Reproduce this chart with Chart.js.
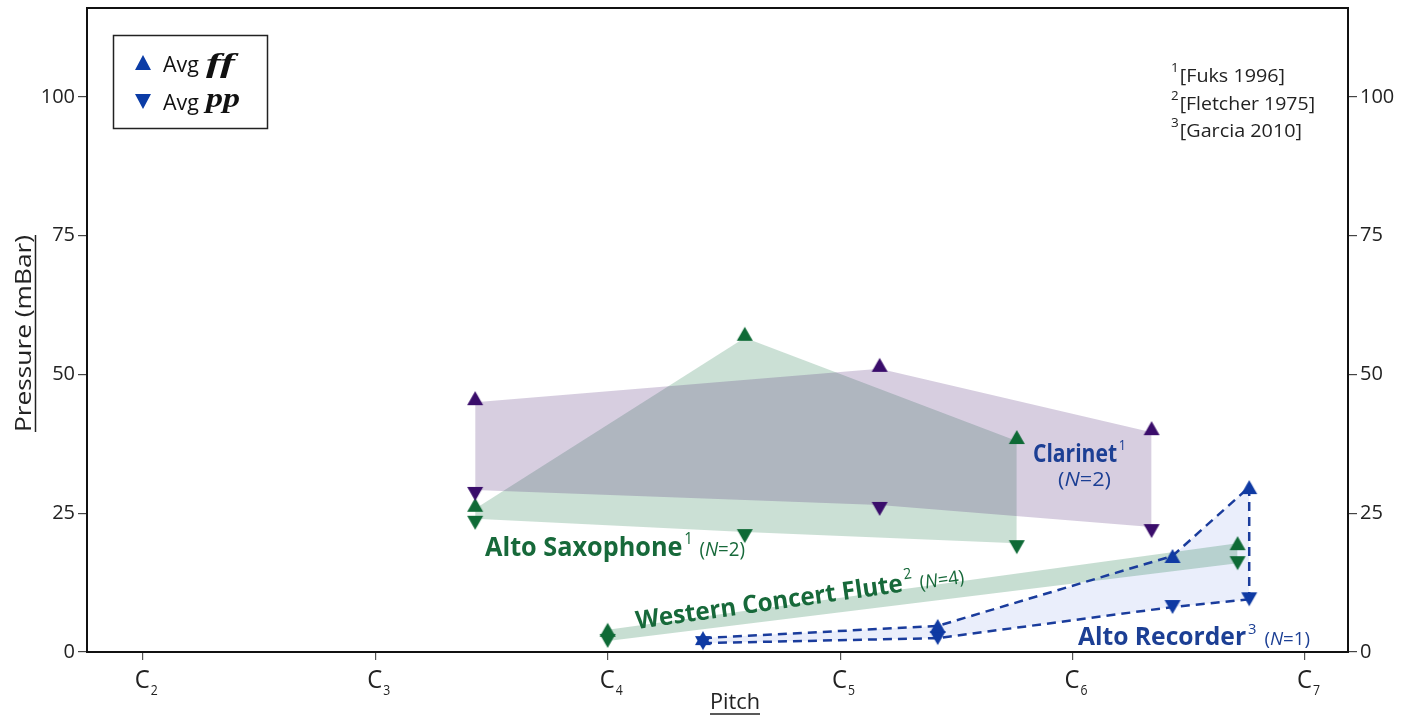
<!DOCTYPE html>
<html>
<head>
<meta charset="utf-8">
<script src="https://cdn.jsdelivr.net/npm/chart.js@4.4.0/dist/chart.umd.min.js"></script>
<style>
  body { margin: 0; background: #fff; }
  canvas { display: block; }
</style>
</head>
<body>
<canvas id="chart" width="1421" height="720"></canvas>
<script>
// Axis ticks
const yTicks = [0, 25, 50, 75, 100];
const octaves = [2, 3, 4, 5, 6, 7];

// Pitch given in octaves (C4 = 4.0), pressure in mBar
const clarinetPitch = [3.43, 5.17, 6.34];
const clarinetFF = [45.0, 51.0, 39.6];
const clarinetPP = [29.2, 26.5, 22.5];

const saxPitch = [3.43, 4.59, 5.76];
const saxFF = [25.8, 56.6, 38.0];
const saxPP = [24.0, 21.6, 19.6];

const flutePitch = [4.0, 6.71];
const fluteFF = [4.0, 19.6];
const flutePP = [2.0, 16.0];

const recorderPitch = [4.41, 5.42, 6.43, 6.76];
const recorderFF = [2.5, 4.7, 17.3, 29.7];
const recorderPP = [1.6, 2.5, 8.1, 9.5];

const purple = '#3a0d6b';
const green = '#0e6a36';
const blue = '#0f3aa3';
const SANS = '"Open Sans", "DejaVu Sans", sans-serif';

// marker images; with "outside" the triangle sits just beyond the band edge
function tri(color, up, outside) {
    const c = document.createElement('canvas');
    c.width = 18; c.height = 30;
    const g = c.getContext('2d');
    const s = outside ? 4 : 0;
    g.fillStyle = color;
    g.beginPath();
    if (up) { g.moveTo(9, 8 - s); g.lineTo(17, 22 - s); g.lineTo(1, 22 - s); }
    else { g.moveTo(9, 22 + s); g.lineTo(17, 8 + s); g.lineTo(1, 8 + s); }
    g.closePath();
    g.fill();
    return c;
}

const mk = (pitch, vals) => pitch.map((p, i) => ({ x: p, y: vals[i] }));

function band(pitch, vals, color, up, fillColor, outside) {
    return {
        data: mk(pitch, vals),
        fill: fillColor ? '+1' : false,
        backgroundColor: fillColor || 'transparent',
        borderWidth: 0,
        borderColor: 'transparent',
        pointStyle: tri(color, up, outside),
        pointRadius: 5
    };
}

// draw a row of text pieces, squeezed to a given width
function drawRuns(ctx, parts, x, y, width) {
    let total = 0;
    parts.forEach(p => {
        ctx.font = p.font;
        p.w = ctx.measureText(p.text).width;
        total += p.w + (p.gap || 0);
    });
    const k = width ? width / total : 1;
    ctx.save();
    ctx.translate(x, y);
    ctx.scale(k, 1);
    ctx.textAlign = 'left';
    ctx.textBaseline = 'alphabetic';
    let cx = 0;
    parts.forEach(p => {
        cx += p.gap || 0;
        ctx.font = p.font;
        ctx.fillText(p.text, cx, p.dy || 0);
        cx += p.w;
    });
    ctx.restore();
}

function nLabel(n, size, gap) {
    return [
        { text: '(', font: size + 'px ' + SANS, gap: gap },
        { text: 'N', font: 'italic ' + size + 'px ' + SANS },
        { text: '=' + n + ')', font: size + 'px ' + SANS }
    ];
}

const annotate = {
    id: 'annotate',
    afterDraw(chart) {
        const ctx = chart.ctx;
        const a = chart.chartArea;
        const xs = chart.scales.x;
        ctx.save();

        // frame
        ctx.strokeStyle = '#111';
        ctx.lineWidth = 2;
        ctx.strokeRect(a.left, a.top, a.right - a.left, a.bottom - a.top);

        // x tick labels C2..C7
        ctx.fillStyle = '#222';
        octaves.forEach(o => {
            const px = xs.getPixelForValue(o);
            drawRuns(ctx, [{ text: 'C', font: '500 26px ' + SANS }], px - 8, 688, 15);
            drawRuns(ctx, [{ text: String(o), font: '15px ' + SANS }], px + 8, 695, 7);
        });

        // axis titles
        drawRuns(ctx, [{ text: 'Pitch', font: '22px ' + SANS }], 710, 709, 50);
        ctx.strokeStyle = '#222';
        ctx.lineWidth = 1.5;
        ctx.beginPath(); ctx.moveTo(710, 714); ctx.lineTo(760, 714); ctx.stroke();

        ctx.save();
        ctx.translate(31, 432);
        ctx.rotate(-Math.PI / 2);
        drawRuns(ctx, [{ text: 'Pressure (mBar)', font: '22px ' + SANS }], 0, 0, 197);
        ctx.beginPath(); ctx.moveTo(0, 4.5); ctx.lineTo(197, 4.5); ctx.stroke();
        ctx.restore();

        // legend
        ctx.strokeStyle = '#222';
        ctx.lineWidth = 1.5;
        ctx.strokeRect(113.5, 35.5, 154, 93);
        ctx.fillStyle = '#0b3ca6';
        ctx.beginPath(); ctx.moveTo(143, 55); ctx.lineTo(151, 70); ctx.lineTo(135, 70); ctx.closePath(); ctx.fill();
        ctx.beginPath(); ctx.moveTo(143, 109); ctx.lineTo(151, 94); ctx.lineTo(135, 94); ctx.closePath(); ctx.fill();
        ctx.fillStyle = '#111';
        drawRuns(ctx, [{ text: 'Avg', font: '21px ' + SANS }], 163, 72, 36);
        drawRuns(ctx, [{ text: 'ff', font: 'bold italic 27px "Liberation Serif", serif' }], 206, 72, 29);
        drawRuns(ctx, [{ text: 'Avg', font: '21px ' + SANS }], 163, 110, 36);
        drawRuns(ctx, [{ text: 'pp', font: 'bold italic 27px "Liberation Serif", serif' }], 206, 107, 34);

        // references
        ctx.fillStyle = '#222';
        const refs = [['1', '[Fuks 1996]', 82, 114], ['2', '[Fletcher 1975]', 110, 144], ['3', '[Garcia 2010]', 137, 131]];
        refs.forEach(r => {
            drawRuns(ctx, [
                { text: r[0], font: '13px ' + SANS, dy: -10 },
                { text: r[1], font: '19px ' + SANS, gap: 1 }
            ], 1171, r[2], r[3]);
        });

        // instrument labels
        ctx.fillStyle = '#1c3f94';
        drawRuns(ctx, [
            { text: 'Clarinet', font: 'bold 25px ' + SANS },
            { text: '1', font: '15px ' + SANS, dy: -12, gap: 2 }
        ], 1033, 462, 93);
        drawRuns(ctx, nLabel(2, 20, 0), 1058, 486, 53);

        drawRuns(ctx, [
            { text: 'Alto Recorder', font: 'bold 25px ' + SANS },
            { text: '3', font: '15px ' + SANS, dy: -11, gap: 2 }
        ].concat(nLabel(1, 19, 8)), 1078, 645, 232);

        ctx.fillStyle = '#17693a';
        drawRuns(ctx, [
            { text: 'Alto Saxophone', font: 'bold 27px ' + SANS },
            { text: '1', font: '16px ' + SANS, dy: -12, gap: 2 }
        ].concat(nLabel(2, 20, 7)), 485, 556, 260);

        ctx.save();
        ctx.translate(637, 629);
        ctx.rotate(-8 * Math.PI / 180);
        drawRuns(ctx, [
            { text: 'Western Concert Flute', font: 'bold 25px ' + SANS },
            { text: '2', font: '15px ' + SANS, dy: -12, gap: 2 }
        ].concat(nLabel(4, 19, 7)), 0, 0, 331);
        ctx.restore();

        ctx.restore();
    }
};

const yAxis = (position, width) => ({
    type: 'linear',
    position: position,
    min: 0,
    max: 116,
    afterBuildTicks: s => { s.ticks = yTicks.map(v => ({ value: v })); },
    afterFit: s => { s.width = width; s.paddingTop = 0; s.paddingBottom = 0; },
    ticks: { font: { family: SANS, size: 20 }, color: '#222', padding: 3 },
    grid: { drawOnChartArea: false, tickLength: 9, color: '#444', lineWidth: 1.2 },
    border: { color: '#111', width: 2 }
});

new Chart(document.getElementById('chart'), {
    type: 'line',
    data: {
        datasets: [
            band(clarinetPitch, clarinetFF, purple, true, 'rgba(75,30,115,0.22)', true),
            band(clarinetPitch, clarinetPP, purple, false, null, true),
            band(saxPitch, saxFF, green, true, 'rgba(20,115,65,0.22)', true),
            band(saxPitch, saxPP, green, false, null, true),
            band(flutePitch, fluteFF, green, true, 'rgba(20,115,65,0.24)', false),
            band(flutePitch, flutePP, green, false, null, false),
            {
                data: mk(recorderPitch, recorderFF),
                fill: '+1',
                backgroundColor: 'rgba(50,90,220,0.1)',
                borderColor: '#1a3c9c',
                borderWidth: 2.5,
                borderDash: [9, 6],
                pointStyle: tri(blue, true, false),
                pointRadius: 5
            },
            {
                data: mk(recorderPitch, recorderPP),
                fill: false,
                borderColor: '#1a3c9c',
                borderWidth: 2.5,
                borderDash: [9, 6],
                pointStyle: tri(blue, false, false),
                pointRadius: 5
            },
            {
                // closing edge of the recorder band at its highest note
                data: [
                    { x: recorderPitch[recorderPitch.length - 1], y: recorderFF[recorderFF.length - 1] },
                    { x: recorderPitch[recorderPitch.length - 1], y: recorderPP[recorderPP.length - 1] }
                ],
                fill: false,
                borderColor: '#1a3c9c',
                borderWidth: 2.5,
                borderDash: [9, 6],
                pointRadius: 0
            }
        ]
    },
    options: {
        responsive: false,
        animation: false,
        events: [],
        layout: { padding: { top: 8 } },
        plugins: {
            legend: { display: false },
            tooltip: { enabled: false },
            filler: { drawTime: 'beforeDatasetsDraw' }
        },
        scales: {
            x: {
                type: 'linear',
                min: 1.76,
                max: 7.185,
                afterBuildTicks: s => { s.ticks = octaves.map(v => ({ value: v })); },
                afterFit: s => { s.height = 68; s.paddingLeft = 0; s.paddingRight = 0; },
                ticks: { callback: () => '' },
                grid: { drawOnChartArea: false, tickLength: 8, color: '#555', lineWidth: 1.2 },
                border: { color: '#111', width: 2 }
            },
            y: yAxis('left', 87),
            y2: yAxis('right', 73)
        }
    },
    plugins: [annotate]
});
</script>
</body>
</html>
